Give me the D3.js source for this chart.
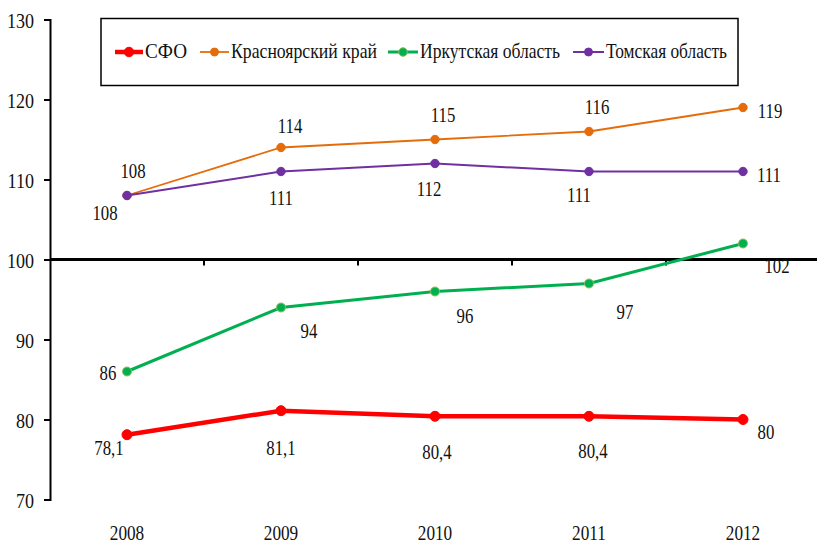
<!DOCTYPE html>
<html><head><meta charset="utf-8">
<script src="https://cdn.jsdelivr.net/npm/d3@7"></script>
<style>body{margin:0;background:#fff}svg{display:block}</style>
</head><body>
<svg id="c" width="817" height="543" font-family="Liberation Serif"></svg>
<script>
const years = ["2008","2009","2010","2011","2012"];
const seriesNames = ["СФО","Красноярский край","Иркутская область","Томская область"];
const sfo = [78.1, 81.1, 80.4, 80.4, 80];
const sfoLabels = ["78,1","81,1","80,4","80,4","80"];
const krasnoyarsk = [108, 114, 115, 116, 119];
const irkutsk = [86, 94, 96, 97, 102];
const tomsk = [108, 111, 112, 111, 111];
const yTicks = [70, 80, 90, 100, 110, 120, 130];

const FONT = "Liberation Serif";
const svg = d3.select("#c");
const x = d3.scaleBand().domain(years).range([50, 820]);
const y = d3.scaleLinear().domain([70, 130]).range([499.5, 19.5]);
const cx = d => x(d) + x.bandwidth()/2;

// condensed serif text helper
function txt(g, tx, ty, s, anchor, size, sx){
  return g.append("text")
    .attr("transform", `translate(${tx},${ty}) scale(${sx},1)`)
    .attr("text-anchor", anchor).attr("font-family", FONT)
    .attr("font-size", size).attr("fill", "#111").text(s);
}

// y axis
const ya = svg.append("g").attr("transform","translate(50,0)")
  .call(d3.axisLeft(y).tickValues(yTicks).tickSize(6).tickFormat(""));
ya.select(".domain").attr("stroke","#000").attr("stroke-width",2);
ya.selectAll(".tick line").attr("stroke","#000").attr("stroke-width",2);
const yl = svg.append("g");
yTicks.forEach(v => txt(yl, 34, y(v) + 8, String(v), "end", 21, 0.86));

// x axis at 100
const xa = svg.append("g").attr("transform",`translate(0,${y(100)})`)
  .call(d3.axisBottom(x).tickSize(0).tickFormat(""));
xa.select(".domain").attr("stroke","#000").attr("stroke-width",3).attr("d",`M50,0H817`);
const bounds = years.map(d => x(d)).slice(1).concat([x.range()[1]]);
xa.selectAll(".bt").data(bounds).enter().append("line")
  .attr("x1",d=>d).attr("x2",d=>d).attr("y1",0).attr("y2",6)
  .attr("stroke","#000").attr("stroke-width",2);

// year labels
const xl = svg.append("g");
years.forEach(d => txt(xl, cx(d), 540, d, "middle", 21, 0.82));

const series = [
  {name: seriesNames[0], vals: sfo, color:"#ff0000", w:4.5, r:5, stroke:"#ff0000"},
  {name: seriesNames[1], vals: krasnoyarsk, color:"#e46c0a", w:1.8, r:4.2, stroke:"#e46c0a"},
  {name: seriesNames[2], vals: irkutsk, color:"#00b050", w:3, r:4.5, stroke:"#9bbb59"},
  {name: seriesNames[3], vals: tomsk, color:"#7030a0", w:2, r:4.2, stroke:"#7030a0"}
];
const drawOrder = [1,3,2,0];
const line = d3.line().x((d,i)=>cx(years[i])).y(d=>y(d));
drawOrder.forEach(k => {
  const s = series[k];
  const g = svg.append("g");
  g.append("path").datum(s.vals).attr("d", line).attr("fill","none")
    .attr("stroke", s.color).attr("stroke-width", s.w);
  g.selectAll("circle").data(s.vals).enter().append("circle")
    .attr("cx",(d,i)=>cx(years[i])).attr("cy",d=>y(d)).attr("r",s.r)
    .attr("fill",s.color).attr("stroke",s.stroke).attr("stroke-width",1);
});

// data labels: offsets [dx, dy] relative to point
function labels(vals, texts, offs){
  const g = svg.append("g");
  vals.forEach((v,i) => txt(g, cx(years[i]) + offs[i][0], y(v) + offs[i][1], texts[i], "middle", 21, 0.8));
}
labels(krasnoyarsk, krasnoyarsk.map(String), [[6,-18],[9,-15],[8,-18],[8,-18],[27,10]]);
labels(tomsk, tomsk.map(String), [[-22,24],[0,33],[-6,32],[-10,30],[26,10]]);
labels(irkutsk, irkutsk.map(String), [[-19,8],[28,30],[30,31],[36,35],[34,29]]);
labels(sfo, sfoLabels, [[-18,20],[0,44],[2,43],[4,42],[23,19]]);

// legend
const lg = svg.append("g");
lg.append("rect").attr("x",101).attr("y",18.5).attr("width",637).attr("height",67)
  .attr("fill","#fff").attr("stroke","#000").attr("stroke-width",1.5);
const legLineX = [115, 200, 388, 573];
const legTextX = [145, 231, 420, 606];
const legTextW = [42, 146, 140, 121];
series.forEach((s,i) => {
  const g = lg.append("g");
  g.append("line").attr("x1",legLineX[i]).attr("x2",legTextX[i]-2).attr("y1",52).attr("y2",52)
    .attr("stroke",s.color).attr("stroke-width",s.w);
  g.append("circle").attr("cx",(legLineX[i]+legTextX[i]-2)/2).attr("cy",52).attr("r",s.r*0.95)
    .attr("fill",s.color).attr("stroke",s.stroke).attr("stroke-width",1);
  g.append("text").attr("x",legTextX[i]).attr("y",58).attr("font-family", FONT).attr("font-size",21)
    .attr("textLength", legTextW[i]).attr("lengthAdjust","spacingAndGlyphs")
    .attr("fill","#111").text(s.name);
});
</script>
</body></html>
